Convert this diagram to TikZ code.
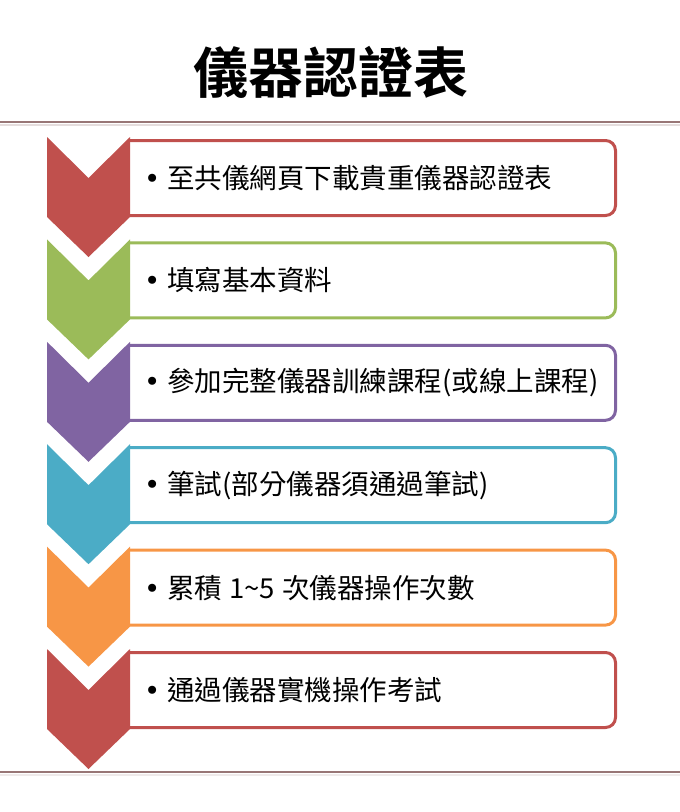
\documentclass[tikz,border=0pt]{standalone}
\usepackage{fontspec}
\setmainfont{Noto Sans CJK TC}[BoldFont={Noto Sans CJK TC Bold}]
\newfontfamily\bulletfont{DejaVu Sans}
\definecolor{redstep}{HTML}{C0504D}
\definecolor{greenstep}{HTML}{9BBB59}
\definecolor{purplestep}{HTML}{8064A2}
\definecolor{cyanstep}{HTML}{4BACC6}
\definecolor{orangestep}{HTML}{F79646}
\definecolor{rulecol}{RGB}{152,118,118}

\begin{document}
\begin{tikzpicture}[x=1pt,y=-1pt,
	stepbox/.style={line width=3pt,rounded corners=10pt},
	steptext/.style={anchor=west,inner sep=0pt,font=\fontsize{27.5}{30}\selectfont},
	title/.style={font=\fontsize{55}{60}\selectfont\bfseries}]
	\useasboundingbox (0,0) rectangle (680,812);
	% title and rules
	\node[title] (head) at (331,72) {儀器認證表};
	\draw[rulecol,line width=2.5pt] (0,122) -- (680,122);
	\draw[rulecol!25,line width=2pt] (0,125) -- (680,125);
	\draw[rulecol,line width=2pt] (0,772) -- (680,772);
	\draw[rulecol!15,line width=2pt] (0,775) -- (680,775);

	% step 1
	\draw[stepbox,draw=redstep] (129,140.5) -- (615.5,140.5) -- (615.5,215.5) -- (129,215.5);
	\fill[redstep] (47,137) -- (88.5,178) -- (130,137) -- (130,217) -- (88.5,257) -- (47,217) -- cycle;
	\node[steptext] (s1) at (144,178) {{\bulletfont•}\hspace{7pt}至共儀網頁下載貴重儀器認證表};
	% step 2
	\draw[stepbox,draw=greenstep] (129,242.9) -- (615.5,242.9) -- (615.5,317.9) -- (129,317.9);
	\fill[greenstep] (47,239.4) -- (88.5,280.4) -- (130,239.4) -- (130,319.4) -- (88.5,359.4) -- (47,319.4) -- cycle;
	\node[steptext] (s2) at (144,280.4) {{\bulletfont•}\hspace{7pt}填寫基本資料};
	% step 3
	\draw[stepbox,draw=purplestep] (129,345.3) -- (615.5,345.3) -- (615.5,420.3) -- (129,420.3);
	\fill[purplestep] (47,341.8) -- (88.5,382.8) -- (130,341.8) -- (130,421.8) -- (88.5,461.8) -- (47,421.8) -- cycle;
	\node[steptext] (s3) at (144,382.8) {{\bulletfont•}\hspace{7pt}參加完整儀器訓練課程(或線上課程)};
	% step 4
	\draw[stepbox,draw=cyanstep] (129,447.7) -- (615.5,447.7) -- (615.5,522.7) -- (129,522.7);
	\fill[cyanstep] (47,444.2) -- (88.5,485.2) -- (130,444.2) -- (130,524.2) -- (88.5,564.2) -- (47,524.2) -- cycle;
	\node[steptext] (s4) at (144,485.2) {{\bulletfont•}\hspace{7pt}筆試(部分儀器須通過筆試)};
	% step 5
	\draw[stepbox,draw=orangestep] (129,550.1) -- (615.5,550.1) -- (615.5,625.1) -- (129,625.1);
	\fill[orangestep] (47,546.6) -- (88.5,587.6) -- (130,546.6) -- (130,626.6) -- (88.5,666.6) -- (47,626.6) -- cycle;
	\node[steptext] (s5) at (144,587.6) {{\bulletfont•}\hspace{7pt}累積\hspace{7pt}1\char"007E 5\hspace{7pt}次儀器操作次數};
	% step 6
	\draw[stepbox,draw=redstep] (129,652.5) -- (615.5,652.5) -- (615.5,727.5) -- (129,727.5);
	\fill[redstep] (47,649) -- (88.5,690) -- (130,649) -- (130,729) -- (88.5,769) -- (47,729) -- cycle;
	\node[steptext] (s6) at (144,690) {{\bulletfont•}\hspace{7pt}通過儀器實機操作考試};
\end{tikzpicture}
\end{document}
